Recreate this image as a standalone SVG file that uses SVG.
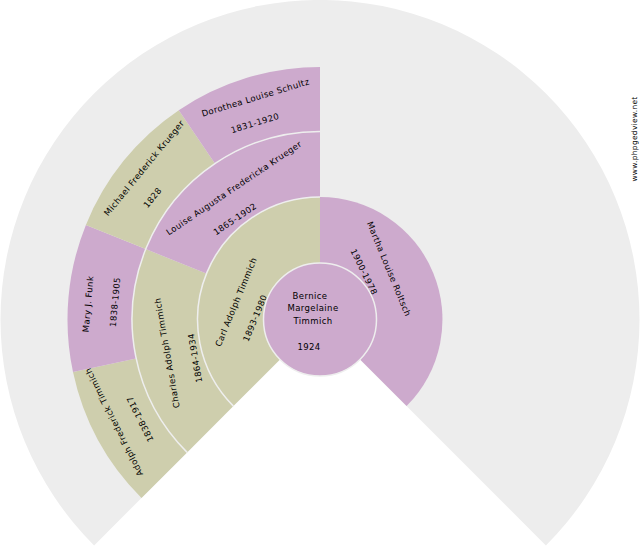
<svg xmlns="http://www.w3.org/2000/svg" width="640" height="550" viewBox="0 0 640 550">
<style>
.f{fill:#cecead}.m{fill:#cdaacd}
.a{fill:none;stroke:#eee;stroke-width:1.5}
text{font-family:"DejaVu Sans",sans-serif;font-size:8.5px;fill:#000;text-anchor:middle;letter-spacing:.4px}
</style>
<rect width="640" height="550" fill="#fff"/>
<path id="backdrop" d="M94.1 545.4A319.5 319.5 0 1 1 545.9 545.4L320 319.5Z" fill="#ededed"/>
<g id="p8"><path class="f" d="M141.5 498A252.5 252.5 0 0 1 73 372L136.1 358.6A188 188 0 0 0 187.1 452.4Z"/><text dy="3" transform="translate(114 422) rotate(-116.5)">Adolph Frederick Timmich</text><text dy="3" transform="translate(140 419) rotate(-116.5)">1838-1917</text></g>
<g id="p9"><path class="m" d="M73 372A252.5 252.5 0 0 1 85.9 224.9L145.7 249.1A188 188 0 0 0 136.1 358.6Z"/><text dy="3" transform="translate(88 304) rotate(-85)">Mary J. Funk</text><text dy="3" transform="translate(115 302) rotate(-85)">1838-1905</text></g>
<g id="p10"><path class="f" d="M85.9 224.9A252.5 252.5 0 0 1 178.8 110.2L214.9 163.6A188 188 0 0 0 145.7 249.1Z"/><text dy="3" transform="translate(144 168) rotate(-50.6)">Michael Frederick Krueger</text><text dy="3" transform="translate(152.5 197.5) rotate(-50.6)">1828</text></g>
<g id="p11"><path class="m" d="M178.8 110.2A252.5 252.5 0 0 1 320 67V131.5A188 188 0 0 0 214.9 163.6Z"/><text dy="3" transform="translate(255.5 97.5) rotate(-17)">Dorothea Louise Schultz</text><text dy="3" transform="translate(255 123) rotate(-17)">1831-1920</text></g>
<g id="p4"><path class="f" d="M187.1 452.4A188 188 0 0 1 145.7 249.1L206.4 273.6A122.5 122.5 0 0 0 233.4 406.1Z"/><text dy="3" transform="translate(167 353) rotate(-100)">Charles Adolph Timmich</text><text dy="3" transform="translate(195 358) rotate(-100)">1864-1934</text></g>
<g id="p5"><path class="m" d="M145.7 249.1A188 188 0 0 1 320 131.5V197A122.5 122.5 0 0 0 206.4 273.6Z"/><text dy="3" transform="translate(234 188) rotate(-34)">Louise Augusta Fredericka Krueger</text><text dy="3" transform="translate(235 219) rotate(-34)">1865-1902</text></g>
<g id="p2"><path class="f" d="M233.4 406.1A122.5 122.5 0 0 1 320 197V319.5Z"/><text dy="3" transform="translate(236 302) rotate(-67.5)">Carl Adolph Timmich</text><text dy="3" transform="translate(255 318) rotate(-67.5)">1893-1980</text></g>
<g id="p3"><path class="m" d="M320 197A122.5 122.5 0 0 1 406.6 406.1L320 319.5Z"/><text dy="3" transform="translate(389 269) rotate(67.5)">Martha Louise Roltsch</text><text dy="3" transform="translate(364 272) rotate(64)">1900-1978</text></g>
<g id="connectors">
<path class="a" d="M187.1 452.4A188 188 0 0 1 320 131.5"/>
<path class="a" d="M233.4 406.1A122.5 122.5 0 0 1 320 197"/>
</g>
<g id="p1"><circle class="m" cx="320" cy="319.5" r="56.5" stroke="#eee" stroke-width="1.5"/><text x="310" y="299">Bernice</text><text x="313" y="311">Margelaine</text><text x="313" y="324">Timmich</text><text x="309" y="350">1924</text></g>
<text transform="translate(637 139) rotate(-90)" style="font-size:7.5px;letter-spacing:.3px">www.phpgedview.net</text>
</svg>
